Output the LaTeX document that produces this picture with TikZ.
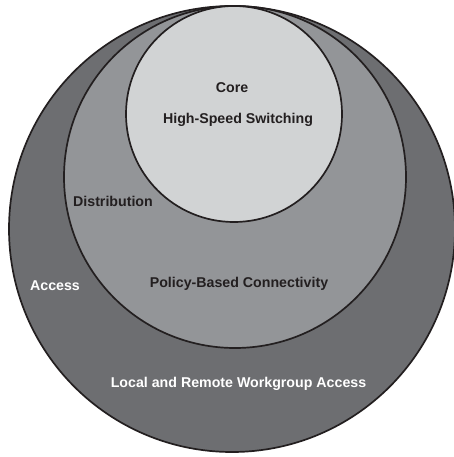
\documentclass[tikz,border=0pt]{standalone}
\usepackage{fontspec}
\setmainfont{Liberation Sans}
\usepackage{xcolor}
\usepackage{tikz}
\usetikzlibrary{positioning}
\definecolor{ink}{HTML}{231F20}
\definecolor{accessfill}{HTML}{6D6E71}
\definecolor{distfill}{HTML}{939598}
\definecolor{corefill}{HTML}{D1D3D4}

\begin{document}
\begin{tikzpicture}[x=1pt,y=-1pt,
  ring/.style={draw=ink,line width=1.7pt},
  lbl/.style={anchor=base,inner sep=0pt,font=\fontsize{14.2}{17}\selectfont\bfseries,text=ink},
  lbllight/.style={lbl,text=white}]
\useasboundingbox (0,0) rectangle (453,457);
\filldraw[ring,fill=accessfill] (232,229) circle (223);
\filldraw[ring,fill=distfill] (235,177) circle (171);
\filldraw[ring,fill=corefill] (234,114) circle (108);
\node[lbl] (core) at (232,93) {Core};
\node[lbl] (hss) at (238,124) {High-Speed Switching};
\node[lbl] (dist) at (113,206) {Distribution};
\node[lbl] (policy) at (239,287) {Policy-Based Connectivity};
\node[lbllight] (access) at (55,290) {Access};
\node[lbllight] (lrwa) at (238.5,387) {Local and Remote Workgroup Access};
\end{tikzpicture}
\end{document}
